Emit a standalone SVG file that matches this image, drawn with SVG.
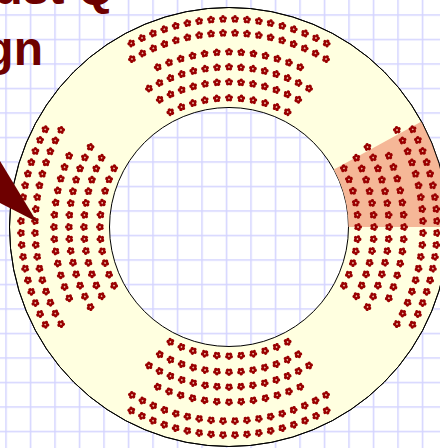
<svg xmlns="http://www.w3.org/2000/svg" xmlns:xlink="http://www.w3.org/1999/xlink" width="440" height="448" viewBox="0 0 440 448">
<style>
.ring{fill:#ffffe0;stroke:#000;stroke-width:1;fill-rule:evenodd}
.title{font-family:"Liberation Sans",Arial,sans-serif;font-weight:bold;fill:#6e0000}
.pet{fill:#9a0000}
.ctr{fill:#e9b49c}
</style>
<defs>
<pattern id="grid" width="24.5" height="24.5" patternUnits="userSpaceOnUse" x="5.25" y="14.25">
<path d="M0.75 0V24.5M0 0.75H24.5" stroke="#d4d4ff" stroke-width="1.5" fill="none"/>
</pattern>
<g id="f">
<circle class="pet" cx="0" cy="-2.3" r="1.75"/>
<circle class="pet" cx="2.19" cy="-0.71" r="1.75"/>
<circle class="pet" cx="1.35" cy="1.86" r="1.75"/>
<circle class="pet" cx="-1.35" cy="1.86" r="1.75"/>
<circle class="pet" cx="-2.19" cy="-0.71" r="1.75"/>
<circle class="ctr" cx="0" cy="0" r="0.8"/>
</g>
<g id="sec">
<g id="rowA">
<use href="#f" transform="rotate(-28)" y="-208"/><use href="#f" transform="rotate(-24.706)" y="-208"/><use href="#f" transform="rotate(-21.412)" y="-208"/><use href="#f" transform="rotate(-18.118)" y="-208"/><use href="#f" transform="rotate(-14.824)" y="-208"/><use href="#f" transform="rotate(-11.529)" y="-208"/><use href="#f" transform="rotate(-8.235)" y="-208"/><use href="#f" transform="rotate(-4.941)" y="-208"/><use href="#f" transform="rotate(-1.647)" y="-208"/><use href="#f" transform="rotate(1.647)" y="-208"/><use href="#f" transform="rotate(4.941)" y="-208"/><use href="#f" transform="rotate(8.235)" y="-208"/><use href="#f" transform="rotate(11.529)" y="-208"/><use href="#f" transform="rotate(14.824)" y="-208"/><use href="#f" transform="rotate(18.118)" y="-208"/><use href="#f" transform="rotate(21.412)" y="-208"/><use href="#f" transform="rotate(24.706)" y="-208"/><use href="#f" transform="rotate(28)" y="-208"/>
</g>
<g id="rowB">
<use href="#f" transform="rotate(-30)" y="-194"/><use href="#f" transform="rotate(-26.471)" y="-194"/><use href="#f" transform="rotate(-22.941)" y="-194"/><use href="#f" transform="rotate(-19.412)" y="-194"/><use href="#f" transform="rotate(-15.882)" y="-194"/><use href="#f" transform="rotate(-12.353)" y="-194"/><use href="#f" transform="rotate(-8.824)" y="-194"/><use href="#f" transform="rotate(-5.294)" y="-194"/><use href="#f" transform="rotate(-1.765)" y="-194"/><use href="#f" transform="rotate(1.765)" y="-194"/><use href="#f" transform="rotate(5.294)" y="-194"/><use href="#f" transform="rotate(8.824)" y="-194"/><use href="#f" transform="rotate(12.353)" y="-194"/><use href="#f" transform="rotate(15.882)" y="-194"/><use href="#f" transform="rotate(19.412)" y="-194"/><use href="#f" transform="rotate(22.941)" y="-194"/><use href="#f" transform="rotate(26.471)" y="-194"/><use href="#f" transform="rotate(30)" y="-194"/>
</g>
<g id="rowC">
<use href="#f" transform="rotate(-24)" y="-175"/><use href="#f" transform="rotate(-20)" y="-175"/><use href="#f" transform="rotate(-16)" y="-175"/><use href="#f" transform="rotate(-12)" y="-175"/><use href="#f" transform="rotate(-8)" y="-175"/><use href="#f" transform="rotate(-4)" y="-175"/><use href="#f" y="-175"/><use href="#f" transform="rotate(4)" y="-175"/><use href="#f" transform="rotate(8)" y="-175"/><use href="#f" transform="rotate(12)" y="-175"/><use href="#f" transform="rotate(16)" y="-175"/><use href="#f" transform="rotate(20)" y="-175"/><use href="#f" transform="rotate(24)" y="-175"/>
</g>
<g id="rowD">
<use href="#f" transform="rotate(-30)" y="-160"/><use href="#f" transform="rotate(-25.714)" y="-160"/><use href="#f" transform="rotate(-21.429)" y="-160"/><use href="#f" transform="rotate(-17.143)" y="-160"/><use href="#f" transform="rotate(-12.857)" y="-160"/><use href="#f" transform="rotate(-8.571)" y="-160"/><use href="#f" transform="rotate(-4.286)" y="-160"/><use href="#f" y="-160"/><use href="#f" transform="rotate(4.286)" y="-160"/><use href="#f" transform="rotate(8.571)" y="-160"/><use href="#f" transform="rotate(12.857)" y="-160"/><use href="#f" transform="rotate(17.143)" y="-160"/><use href="#f" transform="rotate(21.429)" y="-160"/><use href="#f" transform="rotate(25.714)" y="-160"/><use href="#f" transform="rotate(30)" y="-160"/>
</g>
<g id="rowE">
<use href="#f" transform="rotate(-28.5)" y="-145"/><use href="#f" transform="rotate(-23.75)" y="-145"/><use href="#f" transform="rotate(-19)" y="-145"/><use href="#f" transform="rotate(-14.25)" y="-145"/><use href="#f" transform="rotate(-9.5)" y="-145"/><use href="#f" transform="rotate(-4.75)" y="-145"/><use href="#f" y="-145"/><use href="#f" transform="rotate(4.75)" y="-145"/><use href="#f" transform="rotate(9.5)" y="-145"/><use href="#f" transform="rotate(14.25)" y="-145"/><use href="#f" transform="rotate(19)" y="-145"/><use href="#f" transform="rotate(23.75)" y="-145"/><use href="#f" transform="rotate(28.5)" y="-145"/>
</g>
<g id="rowF">
<use href="#f" transform="rotate(-27)" y="-129"/><use href="#f" transform="rotate(-21.6)" y="-129"/><use href="#f" transform="rotate(-16.2)" y="-129"/><use href="#f" transform="rotate(-10.8)" y="-129"/><use href="#f" transform="rotate(-5.4)" y="-129"/><use href="#f" y="-129"/><use href="#f" transform="rotate(5.4)" y="-129"/><use href="#f" transform="rotate(10.8)" y="-129"/><use href="#f" transform="rotate(16.2)" y="-129"/><use href="#f" transform="rotate(21.6)" y="-129"/><use href="#f" transform="rotate(27)" y="-129"/>
</g>
</g>
</defs>
<rect width="440" height="448" fill="#fff"/>
<rect width="440" height="448" fill="url(#grid)"/>
<g id="title">
<text class="title" x="-6" y="4" font-size="47">ust Q</text>
<text class="title" x="43" y="65" font-size="48" text-anchor="end">gn</text>
</g>
<g id="ring">
<path class="ring" d="M9.5 227A219.5 219.5 0 1 0 448.5 227A219.5 219.5 0 1 0 9.5 227ZM109.5 227A119.5 119.5 0 1 0 348.5 227A119.5 119.5 0 1 0 109.5 227Z"/>
</g>
<g id="highlight">
<path d="M348.5 227L448.5 227A219.5 219.5 0 0 0 421.5 121.6L333.8 169.6A119.5 119.5 0 0 1 348.5 227Z" fill="#f5b797"/>
<circle cx="229" cy="227" r="219.5" fill="none" stroke="#000" stroke-width="1"/>
</g>
<g id="seats" transform="translate(229 227)">
<g id="seats-top"><use href="#sec"/></g>
<g id="seats-right"><use href="#sec" transform="rotate(90)"/></g>
<g id="seats-bottom"><use href="#sec" transform="rotate(180)"/></g>
<g id="seats-left"><use href="#sec" transform="rotate(270)"/></g>
</g>
<g id="connectors">
<polygon points="0,161 0,203 37,222" fill="#6e0000"/>
</g>
</svg>
